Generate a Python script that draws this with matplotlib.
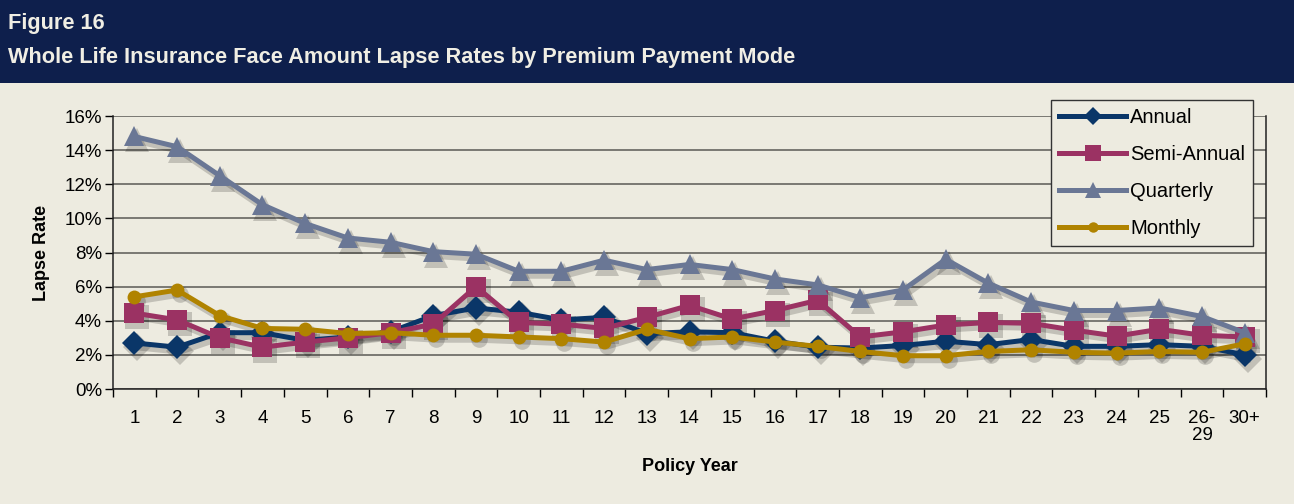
import matplotlib
matplotlib.use("Agg")
import matplotlib.pyplot as plt
import matplotlib.transforms as mtransforms
from matplotlib import font_manager
from matplotlib.patches import Rectangle
from matplotlib.ticker import PercentFormatter

# pick a narrow sans if there is one
names = {f.name for f in font_manager.fontManager.ttflist}
FONT = "Liberation Sans Narrow" if "Liberation Sans Narrow" in names else "Liberation Sans"
plt.rcParams["font.family"] = [FONT, "DejaVu Sans"]

# data (lapse rate, %)
years = [str(i) for i in range(1, 26)] + ["26-\n29", "30+"]
annual = [2.7, 2.45, 3.3, 3.3, 2.85, 3.05, 3.35, 4.3, 4.75, 4.5, 4.05, 4.2, 3.25, 3.35,
          3.3, 2.8, 2.45, 2.4, 2.55, 2.8, 2.6, 2.9, 2.5, 2.5, 2.6, 2.5, 2.0]
semi_annual = [4.45, 4.05, 3.0, 2.45, 2.75, 3.0, 3.3, 3.8, 6.0, 3.9, 3.8, 3.55, 4.2, 4.9,
               4.1, 4.6, 5.2, 3.05, 3.35, 3.75, 3.9, 3.85, 3.45, 3.1, 3.5, 3.15, 3.05]
quarterly = [14.8, 14.2, 12.5, 10.8, 9.7, 8.85, 8.6, 8.05, 7.9, 6.9, 6.9, 7.55, 7.0, 7.3,
             7.0, 6.45, 6.1, 5.35, 5.8, 7.6, 6.2, 5.1, 4.6, 4.6, 4.75, 4.25, 3.3]
monthly = [5.4, 5.8, 4.3, 3.55, 3.5, 3.25, 3.3, 3.15, 3.15, 3.05, 2.95, 2.75, 3.5, 2.95,
           3.05, 2.75, 2.5, 2.2, 1.95, 1.95, 2.2, 2.3, 2.15, 2.1, 2.2, 2.15, 2.65]

series = [
    ("Annual", annual, "#0a3668", "D", 12),
    ("Semi-Annual", semi_annual, "#9b3263", "s", 15),
    ("Quarterly", quarterly, "#6a7795", "^", 15),
    ("Monthly", monthly, "#b08300", "o", 10),
]

BG = "#edebe0"
W, H = 1294, 504
fig = plt.figure(figsize=(W / 100, H / 100), dpi=100, facecolor=BG)

# title band
fig.patches.append(Rectangle((0, 1 - 83 / H), 1, 83 / H, transform=fig.transFigure,
                             facecolor="#0e1f4c", edgecolor="none", zorder=0))
fig.text(8 / W, 1 - 24 / H, "Figure 16", color="#f0eee4", fontsize=15.7,
         fontweight="bold", va="center", ha="left")
fig.text(8 / W, 1 - 57 / H,
         "Whole Life Insurance Face Amount Lapse Rates by Premium Payment Mode",
         color="#f0eee4", fontsize=15.7, fontweight="bold", va="center", ha="left")

ax = fig.add_axes([113 / W, (H - 389) / H, (1266 - 113) / W, (389 - 116) / H])
ax.set_facecolor(BG)

x = list(range(len(years)))
# soft drop shadow: same series shifted a few pixels down-right
shift = mtransforms.ScaledTranslation(3 / 100, -4 / 100, fig.dpi_scale_trans)
for name, vals, col, mk, ms in series:
    ax.plot(x, vals, color="#000000", alpha=0.18, lw=5, marker=mk, markersize=ms + 2,
            markeredgewidth=0, transform=ax.transData + shift, clip_on=False, zorder=2)
for name, vals, col, mk, ms in series:
    ax.plot(x, vals, color=col, lw=3.6, marker=mk, markersize=ms, label=name,
            markeredgewidth=0, clip_on=False, zorder=3)

ax.set_xlim(-0.5, len(years) - 0.5)
ax.set_ylim(0, 16)
ax.set_yticks(range(0, 17, 2))
ax.yaxis.set_major_formatter(PercentFormatter(decimals=0))
ax.set_xticks(x)
ax.set_xticklabels(years, va="top", linespacing=1.05)
ax.set_xticks([i - 0.5 for i in range(len(years) + 1)], minor=True)
ax.tick_params(axis="x", which="major", length=0, pad=15, labelsize=13.5)
ax.tick_params(axis="x", which="minor", length=6, width=1, direction="out")
ax.tick_params(axis="y", length=6, width=1, labelsize=13.5, pad=2)

ax.grid(axis="y", color="#5a5a55", lw=1.1)
ax.set_axisbelow(True)
for s in ["left", "bottom", "right"]:
    ax.spines[s].set_color("#222222")
    ax.spines[s].set_linewidth(1.1)
ax.spines["top"].set_visible(False)

ax.set_ylabel("Lapse Rate", fontsize=13, fontweight="bold", labelpad=10)
ax.set_xlabel("Policy Year", fontsize=13, fontweight="bold", labelpad=10)

leg = ax.legend(loc="upper right", bbox_to_anchor=((1253 - 113) / (1266 - 113), (389 - 100) / (389 - 116)),
                borderaxespad=0, fontsize=14.5, frameon=True, fancybox=False,
                handlelength=3.3, markerscale=0.75, labelspacing=0.9, borderpad=0.4,
                handletextpad=0.2)
leg.get_frame().set_facecolor(BG)
leg.get_frame().set_edgecolor("#333333")
leg.get_frame().set_linewidth(1.0)
leg.get_frame().set_alpha(1)
leg.set_zorder(5)

fig.savefig("out.png", dpi=100, facecolor=BG)
